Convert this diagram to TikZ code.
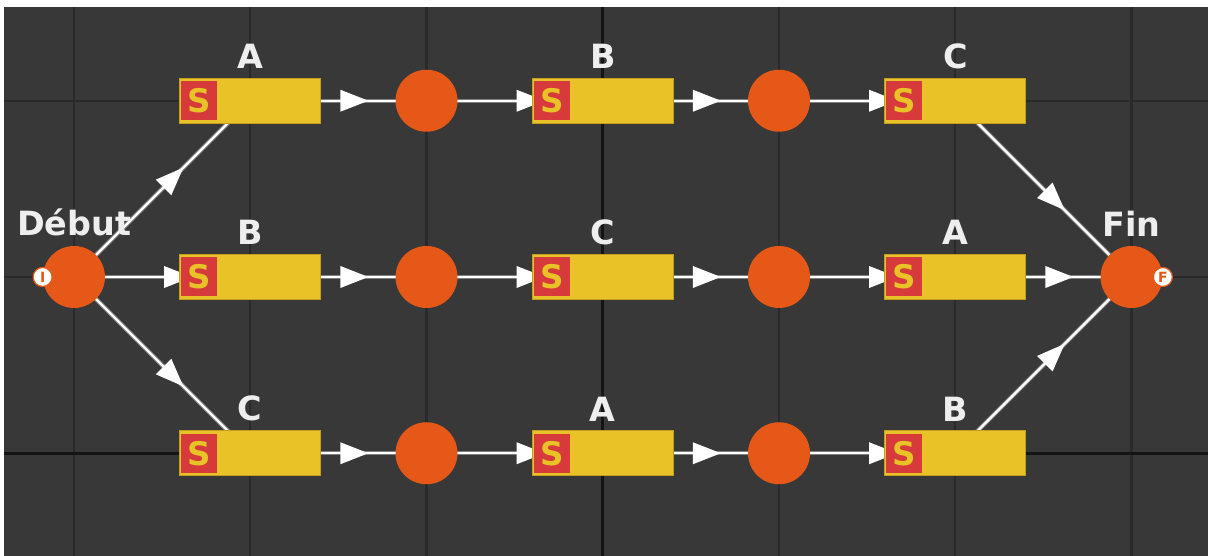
\documentclass[tikz,border=0pt]{standalone}
\usepackage{fontspec}
\setmainfont{DejaVu Sans}
\usetikzlibrary{positioning, backgrounds, decorations.markings}
\definecolor{mybg}{RGB}{56,56,56}
\definecolor{mygrid}{RGB}{42,42,42}
\definecolor{myaxis}{RGB}{20,20,20}
\definecolor{myorange}{RGB}{230,88,24}
\definecolor{myyellow}{RGB}{232,194,38}
\definecolor{mygold}{RGB}{196,158,32}
\definecolor{myred}{RGB}{214,58,58}
\definecolor{mytext}{RGB}{238,238,238}
\definecolor{myglow}{RGB}{128,128,128}
\tikzset{
  place/.style={circle, fill=myorange, minimum size=1.24cm, inner sep=0pt},
  task/.style={rectangle, draw=mygold, fill=myyellow, minimum width=2.82cm,
    minimum height=0.9cm, line width=0.6pt, inner sep=0pt},
  sbox/.style={rectangle, fill=myred, minimum width=0.72cm, minimum height=0.78cm,
    inner sep=0pt, text=myyellow, font=\fontsize{18.5}{22}\selectfont\bfseries,
    on grid=false},
  tasklbl/.style={text=mytext, font=\fontsize{19}{22}\selectfont\bfseries,
    on grid=false},
  badge/.style={circle, draw=myorange, fill=white, line width=0.7pt,
    minimum size=0.38cm, inner sep=0pt, text=myorange,
    font=\fontsize{8}{9}\selectfont\bfseries},
  flow/.style={draw=myglow, double=white, double distance=1.3pt, line width=0.6pt,
    decoration={markings, mark=at position 0.5 with
      {\fill[white] (0.04,-0.22) -- (0.6,0) -- (0.04,0.22) -- cycle;}},
    postaction={decorate}},
  gridline/.style={draw=mygrid, line width=1.2pt},
  axisline/.style={draw=myaxis, line width=1.8pt}
}
\begin{document}
\begin{tikzpicture}[node distance=3.525cm and 3.525cm, on grid]
  \useasboundingbox (-1.48,-5.58) rectangle (22.68,5.54);
  % Start and end
  \node[place] (start) at (0,0) {};
  \node[tasklbl, above=0.06cm of start] (startl) {Début};
  \node[badge] (startb) at (start.west) {I};
  % First column of tasks
  \node[task, above right=of start] (t11) {};
  \node[task, right=of start] (t21) {};
  \node[task, below right=of start] (t31) {};
  % Places after first tasks
  \node[place, right=of t11] (p11) {};
  \node[place, right=of t21] (p21) {};
  \node[place, right=of t31] (p31) {};
  % Second column of tasks
  \node[task, right=of p11] (t12) {};
  \node[task, right=of p21] (t22) {};
  \node[task, right=of p31] (t32) {};
  % Places after second tasks
  \node[place, right=of t12] (p12) {};
  \node[place, right=of t22] (p22) {};
  \node[place, right=of t32] (p32) {};
  % Third column of tasks
  \node[task, right=of p12] (t13) {};
  \node[task, right=of p22] (t23) {};
  \node[task, right=of p32] (t33) {};
  \node[place, right=of t23] (end) {};
  \node[tasklbl, above=0.06cm of end] (endl) {Fin};
  \node[badge] (endb) at (end.east) {F};
  % S badges and task names
  \foreach \t/\l in {t11/A, t12/B, t13/C, t21/B, t22/C, t23/A, t31/C, t32/A, t33/B} {
    \node[sbox, right=0.035cm of \t.west] (\t-s) {S};
    \node[tasklbl, above=0.06cm of \t] (\t-l) {\l};
  }

  \begin{scope}[on background layer]
    % Canvas and grid
    \fill[white] (-1.48,-5.58) rectangle (22.68,5.54);
    \fill[mybg] (-1.40,-5.58) rectangle (22.68,5.40);
    \foreach \i in {0,1,2,4,5,6}
      \draw[gridline] (\i*3.525,-5.58) -- (\i*3.525,5.40);
    \draw[gridline] (-1.40,3.525) -- (22.68,3.525);
    \draw[gridline] (-1.40,0) -- (22.68,0);
    \draw[axisline] (-1.40,-3.525) -- (22.68,-3.525);
    \draw[axisline] (10.575,-5.58) -- (10.575,5.40);
    % Flows
    \draw[flow] (start.center) -- (t11.center);
    \draw[flow] (start.center) -- (t21.center);
    \draw[flow] (start.center) -- (t31.center);
    \foreach \r in {1,2,3} {
      \draw[flow] (t\r1.center) -- (p\r1.center);
      \draw[flow] (p\r1.center) -- (t\r2.center);
      \draw[flow] (t\r2.center) -- (p\r2.center);
      \draw[flow] (p\r2.center) -- (t\r3.center);
      \draw[flow] (t\r3.center) -- (end.center);
    }
  \end{scope}
\end{tikzpicture}
\end{document}
